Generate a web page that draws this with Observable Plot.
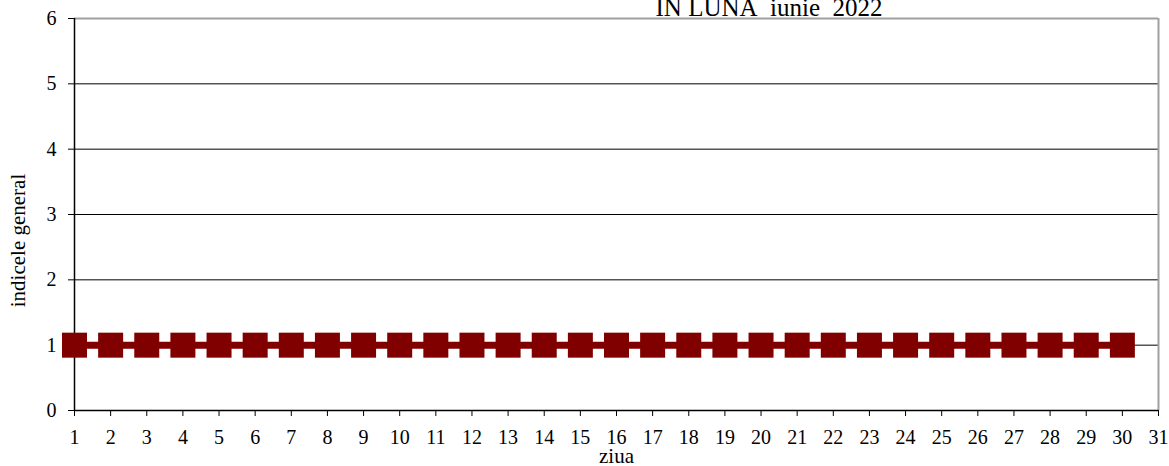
<!DOCTYPE html>
<html>
<head>
<meta charset="utf-8">
<script src="https://cdn.jsdelivr.net/npm/d3@7"></script>
<script src="https://cdn.jsdelivr.net/npm/@observablehq/plot@0.6"></script>
<style>
  html, body { margin: 0; padding: 0; background: #fff; }
  svg { display: block; font-family: 'Liberation Serif', 'Times New Roman', serif !important; }
  svg text { font-family: 'Liberation Serif', 'Times New Roman', serif !important; fill: #000; }
  svg g[aria-label="x-axis tick label"], svg g[aria-label="y-axis tick label"] { font-size: 20px !important; }
  svg g[aria-label="x-axis tick label"] text, svg g[aria-label="y-axis tick label"] text { font-size: 20px !important; }
</style>
</head>
<body>
<div id="chart"></div>
<script>
const titleText = "IN LUNA\u00a0 iunie\u00a0 2022";
const xLabel = "ziua";
const yLabel = "indicele general";
const days = [1,2,3,4,5,6,7,8,9,10,11,12,13,14,15,16,17,18,19,20,21,22,23,24,25,26,27,28,29,30];
const values = [1,1,1,1,1,1,1,1,1,1,1,1,1,1,1,1,1,1,1,1,1,1,1,1,1,1,1,1,1,1];
const xTicks = [1,2,3,4,5,6,7,8,9,10,11,12,13,14,15,16,17,18,19,20,21,22,23,24,25,26,27,28,29,30,31];
const yTicks = [0,1,2,3,4,5,6];
const gridY = [1,2,3,4,5];

const data = days.map((d, i) => ({day: d, value: values[i]}));
const color = "#800000";

const chart = Plot.plot({
  width: 1169,
  height: 466,
  marginLeft: 74,
  marginRight: 11,
  marginTop: 18,
  marginBottom: 56,
  style: {fontFamily: "'Liberation Serif', 'Times New Roman', serif", fontSize: "20px", color: "#000", background: "#fff", overflow: "visible"},
  x: {type: "linear", domain: [1, 31]},
  y: {domain: [0, 6]},
  marks: [
    Plot.ruleY(gridY, {stroke: "#000", strokeWidth: 1}),
    Plot.ruleY([6], {stroke: "#a0a0a0", strokeWidth: 2}),
    Plot.ruleX([31], {stroke: "#a0a0a0", strokeWidth: 2}),
    Plot.axisX({ticks: xTicks, tickSize: 6, tickPadding: 13, tickFormat: d => String(d), label: null, fontSize: 20}),
    Plot.axisY({ticks: yTicks, tickSize: 6, tickPadding: 12, tickFormat: d => String(d), label: null, fontSize: 20}),
    Plot.ruleX([1], {stroke: "#000", strokeWidth: 1.5}),
    Plot.ruleY([0], {stroke: "#000", strokeWidth: 1.5}),
    Plot.line(data, {x: "day", y: "value", stroke: color, strokeWidth: 7}),
    Plot.dot(data, {x: "day", y: "value", symbol: "square", r: Math.sqrt(625 / Math.PI), fill: color, stroke: "none"}),
    Plot.text([titleText], {frameAnchor: "top-left", textAnchor: "start", lineAnchor: "bottom", dx: 581, dy: -3, fontSize: 25, fill: "#000"}),
    Plot.text([xLabel], {frameAnchor: "bottom", textAnchor: "middle", lineAnchor: "bottom", dy: 52, fontSize: 21, fill: "#000"}),
    Plot.text([yLabel], {frameAnchor: "left", textAnchor: "middle", rotate: -90, dx: -56, dy: 26, fontSize: 21, fill: "#000"})
  ]
});
document.getElementById("chart").appendChild(chart);
</script>
</body>
</html>
